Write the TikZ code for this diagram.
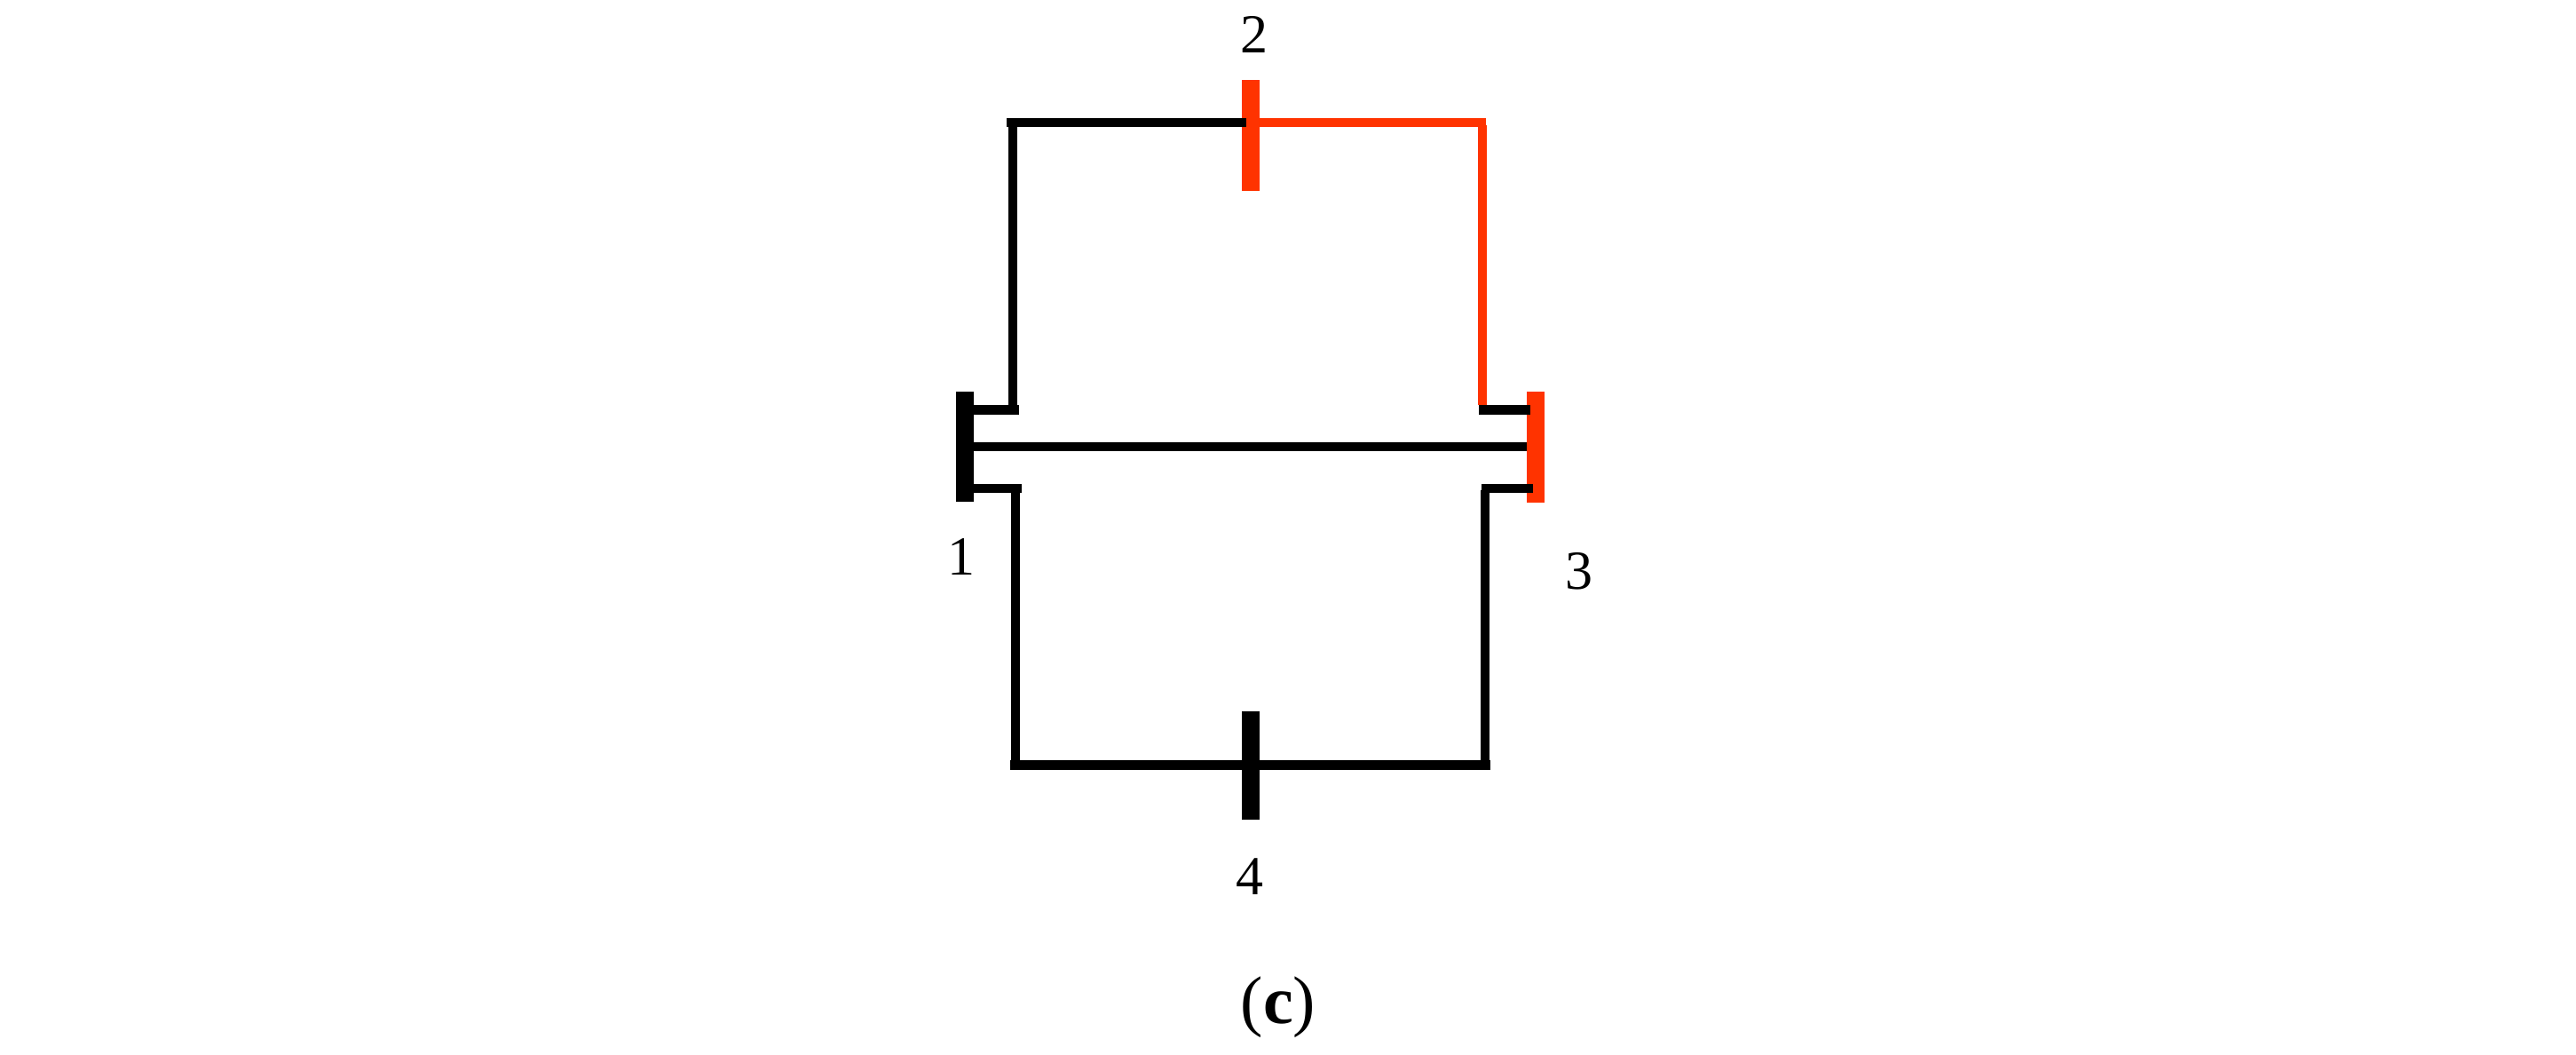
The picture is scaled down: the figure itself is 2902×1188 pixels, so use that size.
\documentclass[tikz,border=0pt]{standalone}
\usepackage{fontspec}
\setmainfont{Liberation Serif}
\definecolor{hot}{HTML}{FF3300}
\tikzset{
  barblack/.style={fill=black,inner sep=0pt,minimum width=20pt,minimum height=124pt},
  barred/.style={fill=hot,inner sep=0pt,minimum width=20pt,minimum height=125pt},
  heavy/.style={line width=10.5pt,black},
  thin wire/.style={line width=10pt,black},
  red heavy/.style={line width=10pt,hot},
  red wire/.style={line width=10pt,hot},
  digit/.style={inner sep=0pt,anchor=base,font=\fontsize{62pt}{62pt}\selectfont},
  caption/.style={inner sep=0pt,anchor=base,font=\fontsize{76pt}{76pt}\selectfont}
}
\begin{document}
\begin{tikzpicture}[x=1pt,y=-1pt]
\useasboundingbox (0,0) rectangle (2902,1188);
\node[barblack] (bar1) at (1086.5,502.5) {};
\node[barred] (bar2) at (1409,152.5) {};
\node[barred] (bar3) at (1730,503.5) {};
\node[barblack,minimum height=122pt] (bar4) at (1409,862) {};
% corners and stub ends
\coordinate (tlh) at (1134,138);
\coordinate (t2) at (1404,138);
\coordinate (t2r) at (1409,138);
\coordinate (trh) at (1674,138);
\coordinate (tlv) at (1141,143);
\coordinate (trv) at (1670,141);
\coordinate (ulv) at (1141,456);
\coordinate (urv) at (1670,456);
\coordinate (u1) at (1096,461.5);
\coordinate (ul) at (1148,461.5);
\coordinate (ur) at (1666,461.5);
\coordinate (u3) at (1724,461.5);
\coordinate (m1) at (1096,503);
\coordinate (m3) at (1720,503);
\coordinate (l1) at (1096,550);
\coordinate (ll) at (1151,550);
\coordinate (lr) at (1669,550);
\coordinate (l3) at (1727,550);
\coordinate (llv) at (1144,555);
\coordinate (lrv) at (1673,552);
\coordinate (blv) at (1144,856);
\coordinate (brv) at (1673,856);
\coordinate (bl) at (1138,861.5);
\coordinate (br) at (1679,861.5);
% wires
\draw[red wire] (trv) -- (urv);
\draw[red heavy] (t2r) -- (trh);
\draw[thin wire] (tlv) -- (ulv);
\draw[thin wire] (llv) -- (blv);
\draw[thin wire] (lrv) -- (brv);
\draw[heavy] (tlh) -- (t2);
\draw[heavy] (u1) -- (ul);
\draw[heavy] (ur) -- (u3);
\draw[heavy] (l1) -- (ll);
\draw[heavy] (lr) -- (l3);
\draw[heavy] (bl) -- (br);
\draw[line width=10pt] (m1) -- (m3);
% labels
\node[digit] (n2) at (1412.5,60) {2};
\node[digit] (n1) at (1083,647) {1};
\node[digit] (n3) at (1779,663) {3};
\node[digit] (n4) at (1407.5,1007) {4};
\node[caption] (cap) at (1440,1152) {(\textbf{c})};
\end{tikzpicture}
\end{document}
